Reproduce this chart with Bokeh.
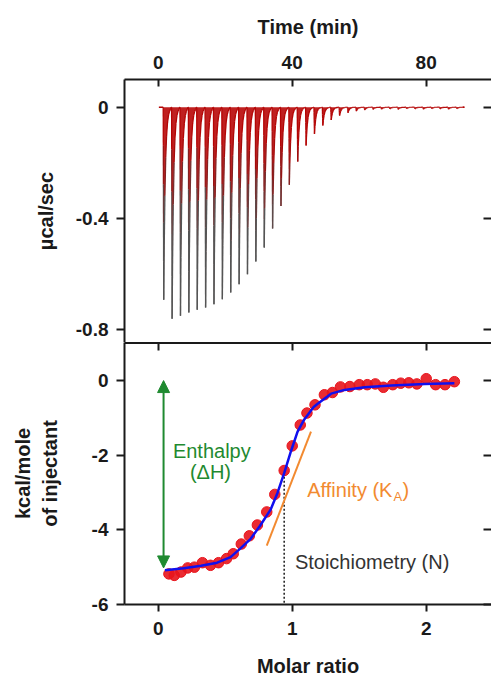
from bokeh.plotting import figure
from bokeh.models import (Range1d, LinearAxis, FixedTicker, Arrow, NormalHead, Label,
                          ColumnDataSource, CustomJSTickFormatter)
from bokeh.layouts import column
from bokeh.transform import linear_cmap
from bokeh.embed import file_html
from bokeh.resources import INLINE

# ---------------- data ----------------
# raw thermogram: injection times (min) and peak depths (ucal/sec)
inj_time = [1.5, 4.0, 6.5, 9.0, 11.5, 14.0, 16.5, 19.0, 21.5, 24.0, 26.5, 29.0,
            31.5, 34.0, 36.5, 39.0, 41.5, 44.0, 46.5, 49.0, 51.5, 54.0, 56.5, 59.0,
            61.5, 64.0, 66.5, 69.0, 71.5, 74.0, 76.5, 79.0, 81.5, 84.0, 86.5, 89.0]
peak_depth = [-0.694, -0.762, -0.752, -0.740, -0.730, -0.722, -0.710, -0.692, -0.668,
              -0.638, -0.602, -0.556, -0.506, -0.437, -0.356, -0.279, -0.196, -0.138,
              -0.096, -0.066, -0.046, -0.030, -0.020, -0.014, -0.010, -0.008, -0.007,
              -0.006, -0.008, -0.005, -0.006, -0.007, -0.005, -0.006, -0.007, -0.005]
trace_start = 0.2
trace_end = 91.0

# integrated heats
molar_ratio = [0.08, 0.12, 0.17, 0.22, 0.27, 0.33, 0.39, 0.45, 0.51, 0.56, 0.62, 0.68,
               0.74, 0.81, 0.87, 0.94, 1.00, 1.06, 1.11, 1.17, 1.24, 1.30, 1.36, 1.43,
               1.50, 1.56, 1.62, 1.68, 1.75, 1.81, 1.87, 1.93, 2.00, 2.07, 2.14, 2.21]
heat = [-5.18, -5.22, -5.13, -5.02, -5.00, -4.88, -4.95, -4.88, -4.77, -4.64, -4.38, -4.16,
        -3.87, -3.52, -3.05, -2.41, -1.75, -1.19, -0.87, -0.65, -0.38, -0.32, -0.17, -0.16,
        -0.11, -0.11, -0.09, -0.18, -0.11, -0.07, -0.06, -0.09, 0.05, -0.11, -0.11, -0.03]

# fitted curve
fit_x = [0.05, 0.19, 0.32, 0.44, 0.54, 0.61, 0.69, 0.76, 0.84, 0.89, 0.94, 0.99, 1.04,
         1.09, 1.16, 1.19, 1.29, 1.39, 1.54, 1.74, 1.99, 2.21]
fit_y = [-5.08, -5.03, -4.96, -4.88, -4.73, -4.51, -4.24, -3.89, -3.45, -3.01, -2.48,
         -1.90, -1.37, -1.04, -0.71, -0.62, -0.35, -0.25, -0.18, -0.13, -0.09, -0.07]

# annotation values
enthalpy_dH = -5.02        # kcal/mol (arrow from 0 to dH)
stoich_N = 0.94            # molar ratio
stoich_heat = -2.47        # heat at N
slope_x = [0.81, 1.14]     # affinity tangent line
slope_y = [-4.42, -1.37]

time_ticks = [0, 40, 80]
ucal_ticks = [0, -0.4, -0.8]
kcal_ticks = [0, -2, -4, -6]
ratio_ticks = [0, 1, 2]

# peak shape template (fraction of depth vs. minutes after injection)
k_dt = [0.0, 0.03, 0.06, 0.09, 0.12, 0.15, 0.3, 0.5, 0.75, 1.0, 1.3, 1.6, 1.9, 2.2, 2.4]
k_fr = [0.0, 0.2, 0.4, 0.6, 0.8, 1.0, 0.72, 0.46, 0.26, 0.15, 0.077, 0.04, 0.02, 0.01, 0.0]

# ---------------- styles ----------------
FONT = "Liberation Sans"
INK = "#1a1a1a"
GREEN = "#1f8a30"
ORANGE = "#f28a30"

tx = [trace_start]
ty = [0.0]
for t0, d in zip(inj_time, peak_depth):
    for dt, fr in zip(k_dt, k_fr):
        tx.append(t0 + dt)
        ty.append(d * fr)
tx.append(trace_end)
ty.append(0.0)

seg = ColumnDataSource(dict(x0=tx[:-1], x1=tx[1:], y0=ty[:-1], y1=ty[1:],
                            ym=[(a + b) / 2 for a, b in zip(ty[:-1], ty[1:])]))
palette = ["#555555", "#5e4a4a", "#683e3e", "#763030", "#852222", "#951616", "#a50c0c", "#b40505"]


def style_axis(ax, labels=True, line=True):
    ax.axis_line_color = INK if line else None
    ax.axis_line_width = 2
    ax.major_tick_line_color = INK
    ax.major_tick_line_width = 2
    ax.minor_tick_line_color = None
    ax.major_label_text_font = FONT
    ax.major_label_text_font_style = "bold"
    ax.major_label_text_color = INK
    ax.axis_label_text_font = FONT
    ax.axis_label_text_font_style = "bold"
    ax.axis_label_text_font_size = "20px"
    ax.axis_label_text_color = INK
    if labels:
        ax.major_label_text_font_size = "19px"
        ax.formatter = CustomJSTickFormatter(code="return tick.toString();")
    else:
        ax.formatter = CustomJSTickFormatter(code="return '';")
        ax.major_label_text_font_size = "1px"
        ax.major_label_standoff = 0
        ax.major_tick_in = 8
        ax.major_tick_out = 0


# ---------------- top panel ----------------
p1 = figure(width=491, height=342, x_range=Range1d(-10.06, 99.5), y_range=Range1d(-0.848, 0.100),
            x_axis_location=None, y_axis_location=None, toolbar_location=None,
            output_backend="svg", min_border_left=124, min_border_right=0,
            min_border_top=79, min_border_bottom=0)
p1.grid.visible = False
p1.outline_line_color = None

top_ax = LinearAxis(ticker=FixedTicker(ticks=time_ticks), axis_label="Time (min)")
style_axis(top_ax)
top_ax.major_tick_in = 7
top_ax.major_tick_out = 0
top_ax.major_label_standoff = 11
top_ax.axis_label_standoff = 15
p1.add_layout(top_ax, "above")

l1 = LinearAxis(ticker=FixedTicker(ticks=ucal_ticks), axis_label="µcal/sec")
style_axis(l1)
l1.major_tick_in = 0
l1.major_tick_out = 8
l1.major_label_standoff = 8
l1.axis_label_standoff = 16
p1.add_layout(l1, "left")

r1 = LinearAxis(ticker=FixedTicker(ticks=ucal_ticks))
style_axis(r1, labels=False, line=False)
p1.add_layout(r1, "right")

p1.varea(x=tx, y1=ty, y2=0, fill_color="#b80808", fill_alpha=0.9)
p1.segment(x0="x0", y0="y0", x1="x1", y1="y1", source=seg, line_width=1.3,
           line_color=linear_cmap("ym", palette, low=-0.45, high=-0.08))

# ---------------- bottom panel ----------------
p2 = figure(width=491, height=337, x_range=Range1d(-0.2515, 2.487), y_range=Range1d(-6.0, 1.02),
            x_axis_location=None, y_axis_location=None, toolbar_location=None,
            output_backend="svg", min_border_left=124, min_border_right=0,
            min_border_top=0, min_border_bottom=73)
p2.grid.visible = False
p2.outline_line_color = None

b2 = LinearAxis(ticker=FixedTicker(ticks=ratio_ticks), axis_label="Molar ratio")
style_axis(b2)
b2.major_tick_in = 0
b2.major_tick_out = 7
b2.major_label_standoff = 10
b2.axis_label_standoff = 17
p2.add_layout(b2, "below")

t2 = LinearAxis(ticker=FixedTicker(ticks=ratio_ticks))
style_axis(t2, labels=False)
t2.axis_line_width = 3
p2.add_layout(t2, "above")

l2 = LinearAxis(ticker=FixedTicker(ticks=kcal_ticks), axis_label="kcal/mole\nof injectant")
style_axis(l2)
l2.major_tick_in = 0
l2.major_tick_out = 8
l2.major_label_standoff = 8
l2.axis_label_standoff = 28
p2.add_layout(l2, "left")

r2 = LinearAxis(ticker=FixedTicker(ticks=kcal_ticks))
style_axis(r2, labels=False, line=False)
p2.add_layout(r2, "right")

# stoichiometry dotted line
p2.segment(x0=[stoich_N], y0=[stoich_heat], x1=[stoich_N], y1=[-6.0],
           line_color=INK, line_width=1.5, line_dash="2 2")
# affinity slope
p2.line(x=slope_x, y=slope_y, line_color=ORANGE, line_width=2)
# data points and fit
p2.scatter(x=molar_ratio, y=heat, size=10.5, fill_color="#e8141c", line_color="#e8141c", fill_alpha=0.9)
p2.line(x=fit_x, y=fit_y, line_color="#1010ee", line_width=2.5)

# enthalpy arrow
p2.add_layout(Arrow(start=NormalHead(size=12, fill_color=GREEN, line_color=GREEN),
                    end=NormalHead(size=12, fill_color=GREEN, line_color=GREEN),
                    x_start=0.04, y_start=enthalpy_dH, x_end=0.04, y_end=0.0,
                    line_color=GREEN, line_width=2))


def lab(x, y, text, color, size="20px", align="left"):
    p2.add_layout(Label(x=x, y=y, text=text, text_font=FONT, text_font_size=size,
                        text_color=color, text_align=align, text_baseline="alphabetic"))


lab(0.40, -1.89, "Enthalpy", GREEN, align="center")
lab(0.39, -2.44, "(ΔH)", GREEN, align="center")
lab(1.112, -2.94, "Affinity (K", ORANGE)
lab(1.755, -3.10, "A", ORANGE, size="13px")
lab(1.822, -2.94, ")", ORANGE)
lab(1.02, -4.85, "Stoichiometry (N)", "#333333")

layout = column(p1, p2, spacing=0)
open("out.html", "w").write(file_html(layout, INLINE))
